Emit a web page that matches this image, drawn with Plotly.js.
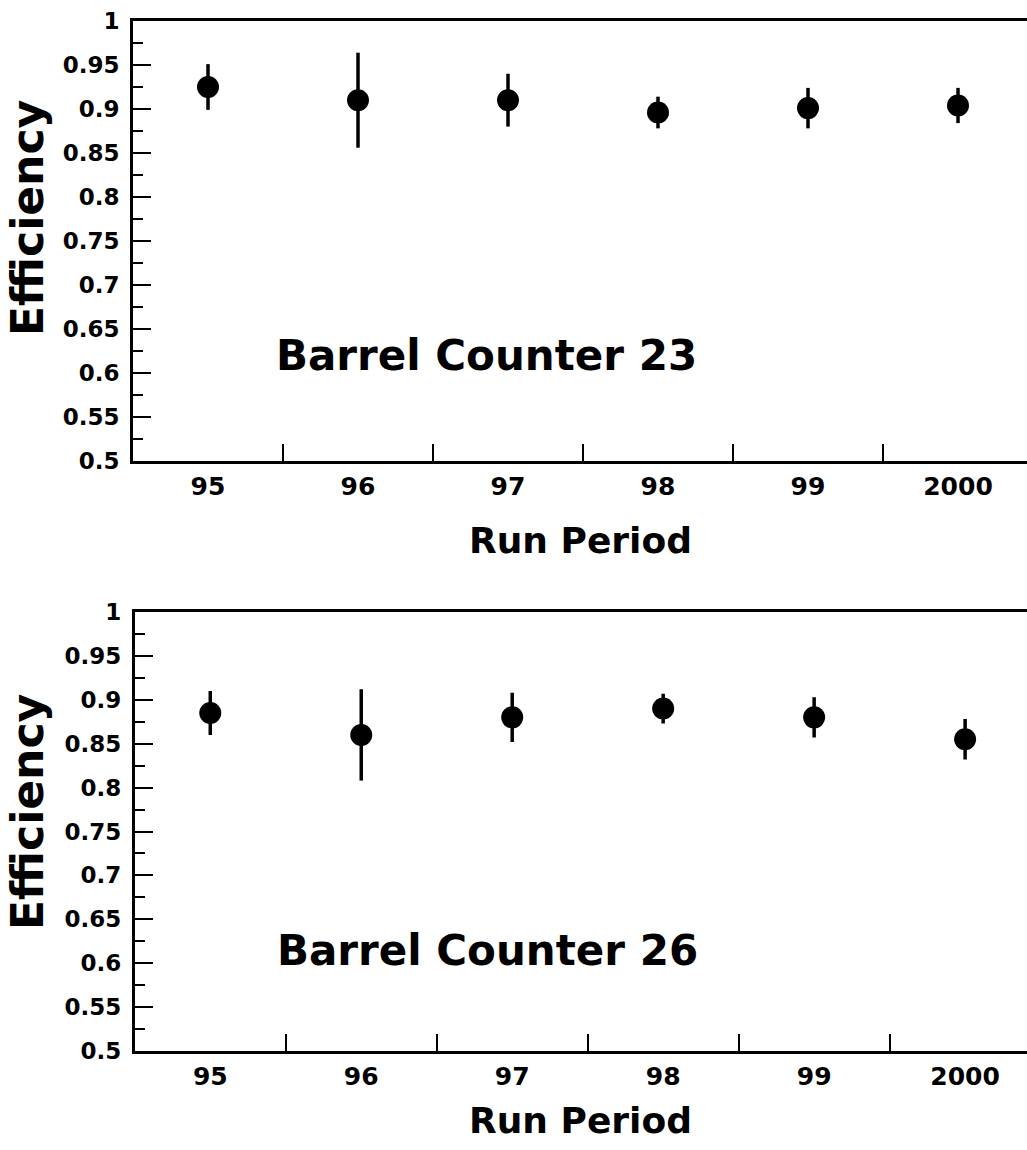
<!DOCTYPE html>
<html>
<head>
<meta charset="utf-8">
<script src="https://cdn.plot.ly/plotly-3.0.1.min.js"></script>
<style>html,body{margin:0;padding:0;background:#fff;}#chart{width:1027px;height:1150px;}</style>
</head>
<body>
<div id="chart"></div>
<script>
// Data
var runPeriods = ["95", "96", "97", "98", "99", "2000"];
var eff23 = [0.925, 0.910, 0.910, 0.896, 0.901, 0.904];
var err23 = [0.026, 0.054, 0.030, 0.018, 0.023, 0.020];
var eff26 = [0.885, 0.860, 0.880, 0.890, 0.880, 0.855];
var err26 = [0.025, 0.052, 0.028, 0.017, 0.023, 0.023];
var yTickVals = [0.5, 0.55, 0.6, 0.65, 0.7, 0.75, 0.8, 0.85, 0.9, 0.95, 1];
var yTickText = ["0.5", "0.55", "0.6", "0.65", "0.7", "0.75", "0.8", "0.85", "0.9", "0.95", "1"];
var panelLabels = ["Barrel Counter 23", "Barrel Counter 26"];

var FONT = "DejaVu Sans, Liberation Sans, Arial, sans-serif";

function pointTrace(y, e, xa, ya) {
  return {
    type: "scatter", mode: "markers", x: runPeriods, y: y,
    xaxis: xa, yaxis: ya,
    marker: {symbol: "circle", size: 22, color: "#000"},
    error_y: {type: "data", array: e, visible: true, color: "#000", thickness: 3.5, width: 0},
    showlegend: false, hoverinfo: "x+y"
  };
}

function xAx(domain, range, anchor) {
  return {
    domain: domain, anchor: anchor, type: "category", range: range,
    tickson: "boundaries", ticks: "inside", ticklen: 17, tickwidth: 2, tickcolor: "#000",
    showline: true, linecolor: "#000", linewidth: 3, mirror: true,
    showgrid: false, zeroline: false,
    ticklabelstandoff: 1,
    tickfont: {family: FONT, size: 25, color: "#000", weight: "bold"},
    fixedrange: true
  };
}
function yAx(domain, anchor) {
  return {
    domain: domain, anchor: anchor, range: [0.5, 1],
    tickmode: "array", tickvals: yTickVals, ticktext: yTickText,
    ticks: "inside", ticklen: 18, tickwidth: 2, tickcolor: "#000",
    minor: {dtick: 0.025, tick0: 0.5, ticks: "inside", ticklen: 10, tickwidth: 2, tickcolor: "#000", showgrid: false},
    showline: true, linecolor: "#000", linewidth: 3, mirror: false,
    showgrid: false, zeroline: false,
    ticklabelstandoff: 6,
    tickfont: {family: FONT, size: 23, color: "#000", weight: "bold"},
    fixedrange: true
  };
}

var data = [
  pointTrace(eff23, err23, "x", "y"),
  pointTrace(eff26, err26, "x2", "y2")
];

var effFont = {family: FONT, size: 44, color: "#000", weight: "bold"};
var runFont = {family: FONT, size: 36, color: "#000", weight: "bold"};
var bigFont = {family: FONT, size: 42, color: "#000", weight: "bold"};

var layout = {
  width: 1027, height: 1150,
  margin: {l: 133, r: 0, t: 21, b: 99, pad: 0},
  paper_bgcolor: "#fff", plot_bgcolor: "#fff",
  xaxis: xAx([0, 1], [-0.5, 5.46], "y"),
  yaxis: yAx([0.5728, 1], "x"),
  xaxis2: xAx([0.002, 1], [-0.5, 5.41], "y2"),
  yaxis2: yAx([0, 0.4262], "x2"),
  annotations: [
    {text: "Efficiency", xref: "paper", yref: "paper", x: -0.1186, y: 0.8087, textangle: -90, showarrow: false, font: effFont, xanchor: "center", yanchor: "middle"},
    {text: "Efficiency", xref: "paper", yref: "paper", x: -0.1186, y: 0.232, textangle: -90, showarrow: false, font: effFont, xanchor: "center", yanchor: "middle"},
    {text: "Run Period", xref: "paper", yref: "paper", x: 0.5, y: 0.4961, showarrow: false, font: runFont, xanchor: "center", yanchor: "middle"},
    {text: "Run Period", xref: "paper", yref: "paper", x: 0.5, y: -0.067, showarrow: false, font: runFont, xanchor: "center", yanchor: "middle"},
    {text: panelLabels[0], xref: "paper", yref: "paper", x: 0.3949, y: 0.6757, showarrow: false, font: bigFont, xanchor: "center", yanchor: "middle"},
    {text: panelLabels[1], xref: "paper", yref: "paper", x: 0.397, y: 0.098, showarrow: false, font: bigFont, xanchor: "center", yanchor: "middle"}
  ]
};

Plotly.newPlot("chart", data, layout, {displayModeBar: false, staticPlot: true});
</script>
</body>
</html>
